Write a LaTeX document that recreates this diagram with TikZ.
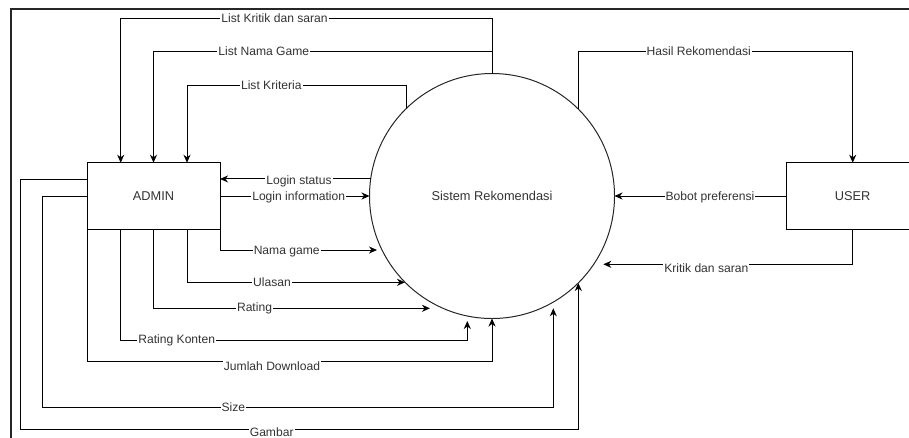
\documentclass[tikz,border=0pt]{standalone}
\usepackage{fontspec}
\setmainfont{Liberation Sans}
\usetikzlibrary{arrows.meta}
\begin{document}
\begin{tikzpicture}[x=1pt,y=-1pt,
  flow/.style={draw=black,line width=1pt,-{Stealth[length=8pt,width=7pt,inset=2.5pt]}},
  entity/.style={draw=black,line width=1pt,rectangle,minimum width=133pt,minimum height=66.5pt,
    inner sep=0pt,outer sep=0pt,font=\fontsize{12.8}{15}\selectfont,text=black!80},
  process/.style={circle,draw=black!85,line width=1pt,minimum size=245pt,inner sep=0pt,
    outer sep=0pt,font=\fontsize{12.8}{15}\selectfont,text=black!80},
  lbl/.style={fill=white,inner sep=1pt,text height=9pt,text depth=2.6pt,
    font=\fontsize{12.1}{14}\selectfont,text=black!80}
]
\useasboundingbox (0,0) rectangle (909,437);
\clip (0,0) rectangle (909,437);

% page frame
\draw[line width=2.2pt,black!85] (11.3,440) -- (11.3,8.6) -- (912,8.6);

% processes and entities
\node[entity] (admin) at (153.5,196) {ADMIN};
\node[entity] (user) at (852.7,196) {USER};
\node[process] (sys) at (492,196) {Sistem Rekomendasi};

% free ends of flows that stop just short of the process
\coordinate (eNama) at (377,250);
\coordinate (eUlasan) at (405,282.3);
\coordinate (eRating) at (430,308.3);
\coordinate (eKonten) at (467.3,321);
\coordinate (eSize) at (553.3,308.3);
\coordinate (eGambar) at (578.3,283);
\coordinate (eKritik) at (603.3,264.3);

% flows from the system to ADMIN
\draw[flow] (sys.north) -- (492,18) -| ([xshift=-32.8pt]admin.north);
\draw[flow] (sys.north) -- (492,51.7) -| (admin.north);
\draw[flow] (sys.134.6) |- (187,85) -- ([xshift=33.5pt]admin.north);
\draw[flow] (sys.172.5) -- (sys.172.5 -| admin.east);

% flows from ADMIN to the system
\draw[flow] (admin.east) -- (sys.west);
\draw[flow] (admin.south east) |- (eNama);
\draw[flow] ([xshift=33.5pt]admin.south) |- (eUlasan);
\draw[flow] (admin.south) |- (eRating);
\draw[flow] ([xshift=-32.8pt]admin.south) |- (eKonten |- 0,340) -- (eKonten);
\draw[flow] (admin.south west) |- (sys.south |- 0,361.7) -- (sys.south);
\draw[flow] (admin.west) -- (42.7,196) |- (eSize |- 0,407.3) -- (eSize);
\draw[flow] ([yshift=16.7pt]admin.west) -- (20.7,179.3) |- (eGambar |- 0,429.3) -- (eGambar);

% flows between USER and the system
\draw[flow] (sys.45.4) |- (user.north |- 0,51.7) -- (user.north);
\draw[flow] (user.west) -- (sys.east);
\draw[flow] (user.south) |- (eKritik);

% flow labels
\node[lbl] (tKritikList) at (274.5,19) {List Kritik dan saran};
\node[lbl] (tNamaList) at (263.8,52.5) {List Nama Game};
\node[lbl] (tKriteria) at (271.3,86) {List Kriteria};
\node[lbl] (tHasil) at (698.8,52.5) {Hasil Rekomendasi};
\node[lbl] (tStatus) at (299,181) {Login status};
\node[lbl] (tInfo) at (298.7,197) {Login information};
\node[lbl] (tNama) at (286.7,251) {Nama game};
\node[lbl] (tUlasan) at (272,283) {Ulasan};
\node[lbl] (tRating) at (254.5,308.5) {Rating};
\node[lbl] (tKonten) at (176.7,340.5) {Rating Konten};
\node[lbl] (tJumlah) at (272,367.5) {Jumlah Download};
\node[lbl] (tSize) at (233.3,408) {Size};
\node[lbl] (tGambar) at (271.7,432.8) {Gambar};
\node[lbl] (tBobot) at (710,197) {Bobot preferensi};
\node[lbl] (tKritik) at (706.3,269.5) {Kritik dan saran};
\end{tikzpicture}
\end{document}
